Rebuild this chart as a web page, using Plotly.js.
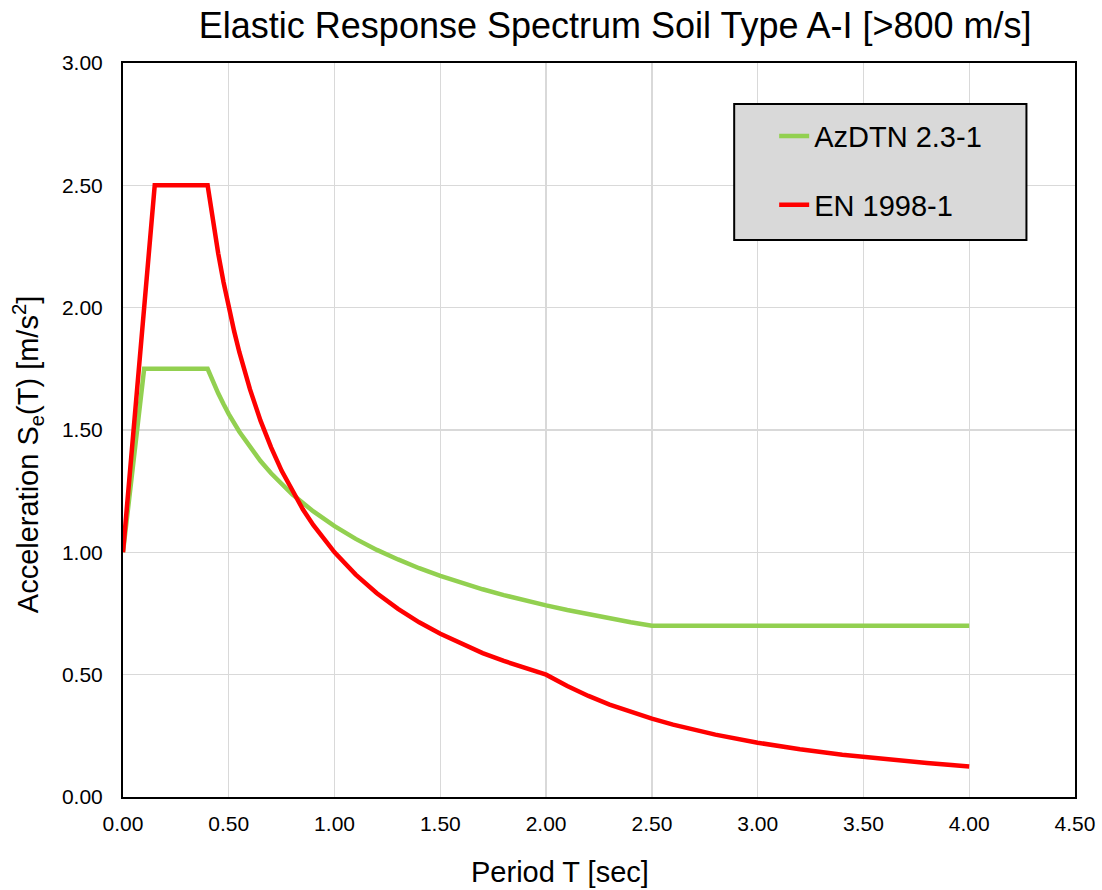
<!DOCTYPE html>
<html>
<head>
<meta charset="utf-8">
<script src="https://cdn.plot.ly/plotly-3.0.1.min.js"></script>
<style>html,body{margin:0;padding:0;background:#fff;}#chart{width:1102px;height:890px;}</style>
</head>
<body>
<div id="chart"></div>
<script>
// AzDTN 2.3-1 spectrum (period T [sec], acceleration [m/s2])
const azdtnPeriod = [0, 0.1, 0.4, 0.425, 0.45, 0.475, 0.5, 0.55, 0.6, 0.65, 0.7, 0.75, 0.8, 0.9, 1.0, 1.1, 1.2, 1.3, 1.4, 1.5, 1.6, 1.7, 1.8, 1.9, 2.0, 2.1, 2.2, 2.3, 2.4, 2.5, 3.0, 3.5, 4.0];
const azdtnAccel  = [1.0, 1.75, 1.75, 1.698, 1.650, 1.606, 1.565, 1.493, 1.429, 1.373, 1.323, 1.278, 1.237, 1.167, 1.107, 1.055, 1.010, 0.971, 0.935, 0.904, 0.875, 0.849, 0.825, 0.803, 0.783, 0.764, 0.746, 0.730, 0.714, 0.700, 0.700, 0.700, 0.700];
// EN 1998-1 spectrum
const enPeriod = [0, 0.15, 0.4, 0.425, 0.45, 0.475, 0.5, 0.525, 0.55, 0.575, 0.6, 0.65, 0.7, 0.75, 0.8, 0.85, 0.9, 0.95, 1.0, 1.1, 1.2, 1.3, 1.4, 1.5, 1.6, 1.7, 1.8, 1.9, 2.0, 2.1, 2.2, 2.3, 2.4, 2.5, 2.6, 2.8, 3.0, 3.2, 3.4, 3.6, 3.8, 4.0];
const enAccel  = [1.0, 2.5, 2.5, 2.353, 2.222, 2.105, 2.0, 1.905, 1.818, 1.739, 1.667, 1.538, 1.429, 1.333, 1.25, 1.176, 1.111, 1.053, 1.0, 0.909, 0.833, 0.769, 0.714, 0.667, 0.625, 0.588, 0.556, 0.526, 0.5, 0.454, 0.413, 0.378, 0.347, 0.320, 0.296, 0.255, 0.222, 0.195, 0.173, 0.154, 0.139, 0.125];

const seriesNames = ['AzDTN 2.3-1', 'EN 1998-1'];
const xTicks = [0, 0.5, 1, 1.5, 2, 2.5, 3, 3.5, 4, 4.5];
const yTicks = [0, 0.5, 1, 1.5, 2, 2.5, 3];

const FONT = 'Liberation Sans, Arial, sans-serif';

const traces = [
  {x: azdtnPeriod, y: azdtnAccel, name: seriesNames[0], type: 'scatter', mode: 'lines',
   line: {color: '#92d050', width: 4.5}, legendgroup: 'a'},
  {x: enPeriod, y: enAccel, name: seriesNames[1], type: 'scatter', mode: 'lines',
   line: {color: '#ff0000', width: 4.5}, legendgroup: 'b'}
];

const layout = {
  width: 1102, height: 890,
  margin: {l: 123, r: 27, t: 63, b: 93},
  paper_bgcolor: '#ffffff', plot_bgcolor: '#ffffff',
  font: {family: FONT, color: '#000', size: 21},
  title: {text: 'Elastic Response Spectrum Soil Type A-I [>800 m/s]', font: {family: FONT, size: 36, color: '#000'},
          x: 0.517, xref: 'paper', xanchor: 'center', y: 0.971, yref: 'container', yanchor: 'middle'},
  xaxis: {range: [0, 4.5], tickvals: xTicks, tickformat: '.2f', showgrid: true, gridcolor: '#d9d9d9', gridwidth: 1.3,
          showline: true, linecolor: '#000', linewidth: 2, mirror: true, ticks: '', zeroline: false,
          ticklabelstandoff: 7,
          tickfont: {size: 21, family: FONT, color: '#000'}, title: {text: ''}},
  yaxis: {range: [0, 3], tickvals: yTicks, tickformat: '.2f', showgrid: true, gridcolor: '#d9d9d9', gridwidth: 1.3,
          showline: true, linecolor: '#000', linewidth: 2, mirror: true, ticks: '', zeroline: false,
          ticklabelstandoff: 14,
          tickfont: {size: 21, family: FONT, color: '#000'}, title: {text: ''}},
  showlegend: true,
  legend: {x: 0.684, y: 0.935, xanchor: 'left', yanchor: 'top', bgcolor: 'rgba(0,0,0,0)', borderwidth: 0,
           font: {size: 29, family: FONT, color: '#000'}, traceorder: 'grouped', tracegroupgap: 28},
  shapes: [{type: 'rect', xref: 'paper', yref: 'paper', x0: 0.642, x1: 0.949, y0: 0.759, y1: 0.944,
            fillcolor: '#d9d9d9', line: {color: '#000', width: 2}, layer: 'above'}],
  annotations: [
    {text: 'Period T [sec]', xref: 'paper', yref: 'paper', x: 0.459, y: -0.102, xanchor: 'center', yanchor: 'middle',
     showarrow: false, font: {size: 29, family: FONT, color: '#000'}},
    {text: 'Acceleration S<sub>e</sub>(T) [m/s<sup>2</sup>]', xref: 'paper', yref: 'paper', x: -0.0998, y: 0.467,
     xanchor: 'center', yanchor: 'middle', textangle: -90, showarrow: false, font: {size: 29, family: FONT, color: '#000'}}
  ]
};

Plotly.newPlot('chart', traces, layout, {displayModeBar: false, staticPlot: true});
</script>
</body>
</html>
